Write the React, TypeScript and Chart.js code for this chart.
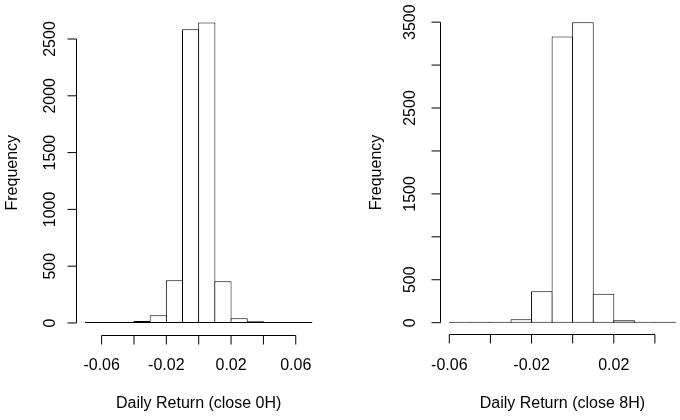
import React, { useEffect, useRef } from 'react';
import { Chart, registerables } from 'chart.js';

Chart.register(...registerables);

// ---- data: histogram bin mid-points and counts ----
const mids0H = [-0.065, -0.055, -0.045, -0.035, -0.025, -0.015, -0.005, 0.005, 0.015, 0.025, 0.035, 0.045, 0.055, 0.065];
const counts0H = [1, 2, 8, 18, 68, 376, 2585, 2646, 367, 41, 15, 6, 2, 1];

const mids8H = [-0.055, -0.045, -0.035, -0.025, -0.015, -0.005, 0.005, 0.015, 0.025, 0.035, 0.045];
const counts8H = [2, 3, 8, 40, 366, 3332, 3498, 338, 28, 8, 3];

const xTicks0H = [-0.06, -0.04, -0.02, 0, 0.02, 0.04, 0.06];
const xTickLabels0H = ['-0.06', '', '-0.02', '', '0.02', '', '0.06'];
const yTicks0H = [0, 500, 1000, 1500, 2000, 2500];
const yTickLabels0H = ['0', '500', '1000', '1500', '2000', '2500'];

const xTicks8H = [-0.06, -0.04, -0.02, 0, 0.02, 0.04];
const xTickLabels8H = ['-0.06', '', '-0.02', '', '0.02', ''];
const yTicks8H = [0, 500, 1000, 1500, 2000, 2500, 3000, 3500];
const yTickLabels8H = ['0', '500', '', '1500', '', '2500', '', '3500'];

const xTitle0H = 'Daily Return (close 0H)';
const xTitle8H = 'Daily Return (close 8H)';
const yTitle = 'Frequency';

const BIN = 0.01;
const FONT = '16px "Liberation Sans", Arial, Helvetica, sans-serif';

// R-style detached axes drawn from the chart's own scales
const rAxes = {
  id: 'rAxes',
  afterDraw(chart: any, _args: any, opts: any) {
    const { ctx, chartArea, scales } = chart;
    const x = scales.x;
    const y = scales.y;
    ctx.save();
    ctx.strokeStyle = '#000';
    ctx.fillStyle = '#000';
    ctx.lineWidth = 1;
    ctx.font = FONT;

    const snap = (v: number) => Math.floor(v) + 0.5;
    const tick = 9;

    // x axis
    const ay = snap(chartArea.bottom);
    const xs = opts.xTicks.map((t: number) => x.getPixelForValue(t));
    ctx.beginPath();
    ctx.moveTo(xs[0], ay);
    ctx.lineTo(xs[xs.length - 1], ay);
    xs.forEach((px: number) => {
      ctx.moveTo(px, ay);
      ctx.lineTo(px, ay + tick);
    });
    ctx.stroke();
    ctx.textAlign = 'center';
    ctx.textBaseline = 'alphabetic';
    opts.xTickLabels.forEach((lab: string, i: number) => {
      if (lab) ctx.fillText(lab, xs[i], 369.5);
    });
    const cx = (x.getPixelForValue(opts.xLim[0]) + x.getPixelForValue(opts.xLim[1])) / 2;
    ctx.fillText(opts.xTitle, cx, 408);

    // y axis
    const ax = snap(chartArea.left);
    const ys = opts.yTicks.map((t: number) => y.getPixelForValue(t));
    ctx.beginPath();
    ctx.moveTo(ax, ys[0]);
    ctx.lineTo(ax, ys[ys.length - 1]);
    ys.forEach((py: number) => {
      ctx.moveTo(ax, py);
      ctx.lineTo(ax - tick, py);
    });
    ctx.stroke();
    opts.yTickLabels.forEach((lab: string, i: number) => {
      if (!lab) return;
      ctx.save();
      ctx.translate(chartArea.left - opts.yLabelGap, ys[i]);
      ctx.rotate(-Math.PI / 2);
      ctx.fillText(lab, 0, 0);
      ctx.restore();
    });
    ctx.save();
    ctx.translate(chartArea.left - 59.5, (chartArea.top + chartArea.bottom) / 2);
    ctx.rotate(-Math.PI / 2);
    ctx.fillText(opts.yTitle, 0, 0);
    ctx.restore();

    ctx.restore();
  },
};

type HistProps = {
  mids: number[];
  counts: number[];
  xTicks: number[];
  xTickLabels: string[];
  yTicks: number[];
  yTickLabels: string[];
  xTitle: string;
  xMaxVisible?: number;
  pad: { left: number; right: number; top: number; bottom: number };
  yLabelGap: number;
};

function Hist(p: HistProps) {
  const ref = useRef<HTMLCanvasElement | null>(null);
  useEffect(() => {
    const canvas = ref.current;
    if (!canvas) return;
    const lo = Math.min(...p.mids) - BIN / 2;
    const hi = Math.max(...p.mids) + BIN / 2;
    const xr = hi - lo;
    const xLim = [lo - 0.04 * xr, hi + 0.04 * xr];
    const xMax = p.xMaxVisible !== undefined ? p.xMaxVisible : xLim[1];
    const ymax = Math.max(...p.counts);
    const yMin = -0.04 * ymax;
    const yMax = 1.04 * ymax;
    const W = 340;
    const plotW = W - p.pad.left - p.pad.right;
    const binPx = (BIN * plotW) / (xMax - xLim[0]);
    const barPct = 1 + 1 / binPx;

    const chart = new Chart(canvas, {
      type: 'bar',
      data: {
        datasets: [
          {
            data: p.mids.map((m, i) => ({ x: m, y: p.counts[i] })),
            backgroundColor: '#ffffff',
            borderColor: '#000000',
            borderWidth: 1,
            borderSkipped: false,
            inflateAmount: 0,
            barPercentage: barPct,
            categoryPercentage: 1,
            minBarLength: 1,
          } as any,
        ],
      },
      options: {
        responsive: false,
        animation: false,
        devicePixelRatio: 1,
        layout: { padding: p.pad },
        scales: {
          x: {
            type: 'linear',
            min: xLim[0],
            max: xMax,
            display: false,
            offset: false,
            grid: { offset: false },
            afterBuildTicks: (s: any) => {
              s.ticks = [];
            },
          },
          y: { type: 'linear', min: yMin, max: yMax, display: false },
        },
        plugins: {
          legend: { display: false },
          tooltip: { enabled: false },
          rAxes: {
            xTicks: p.xTicks,
            xTickLabels: p.xTickLabels,
            yTicks: p.yTicks,
            yTickLabels: p.yTickLabels,
            xTitle: p.xTitle,
            yTitle,
            xLim,
            yLabelGap: p.yLabelGap,
          },
        } as any,
      },
      plugins: [rAxes],
    } as any);
    return () => chart.destroy();
  }, []);
  return <canvas ref={ref} width={340} height={420} style={{ display: 'block', width: 340, height: 420 }} />;
}

export default function App() {
  return (
    <div style={{ position: 'fixed', left: 0, top: 0, width: 680, height: 420, display: 'flex', background: '#fff' }}>
      <Hist
        mids={mids0H}
        counts={counts0H}
        xTicks={xTicks0H}
        xTickLabels={xTickLabels0H}
        yTicks={yTicks0H}
        yTickLabels={yTickLabels0H}
        xTitle={xTitle0H}
        pad={{ left: 76.4, right: 19, top: 10.4, bottom: 85 }}
        yLabelGap={21.4}
      />
      <Hist
        mids={mids8H}
        counts={counts8H}
        xTicks={xTicks8H}
        xTickLabels={xTickLabels8H}
        yTicks={yTicks8H}
        yTickLabels={yTickLabels8H}
        xTitle={xTitle8H}
        xMaxVisible={0.0522}
        pad={{ left: 100.25, right: 0, top: 10.3, bottom: 85.3 }}
        yLabelGap={25.25}
      />
    </div>
  );
}
